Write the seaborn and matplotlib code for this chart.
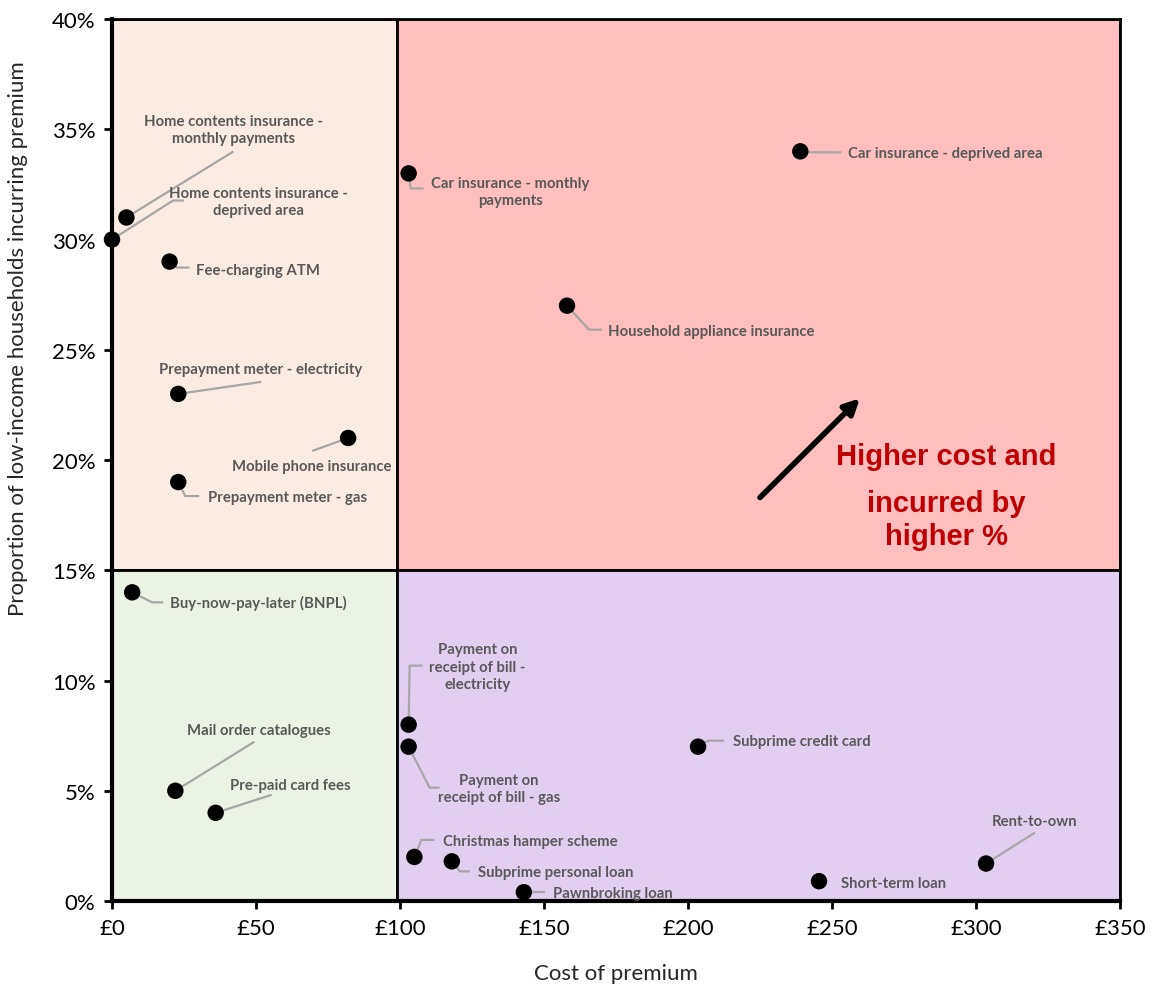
import matplotlib
matplotlib.use('Agg')
import matplotlib.pyplot as plt
import seaborn as sns
import pandas as pd
from matplotlib.patches import Rectangle
from matplotlib.ticker import FuncFormatter

# data
products = [
    'Home contents insurance -\nmonthly payments',
    'Home contents insurance -\ndeprived area',
    'Fee-charging ATM',
    'Prepayment meter - electricity',
    'Mobile phone insurance',
    'Prepayment meter - gas',
    'Buy-now-pay-later (BNPL)',
    'Car insurance - monthly\npayments',
    'Car insurance - deprived area',
    'Household appliance insurance',
    'Payment on\nreceipt of bill -\nelectricity',
    'Payment on\nreceipt of bill - gas',
    'Subprime credit card',
    'Mail order catalogues',
    'Pre-paid card fees',
    'Christmas hamper scheme',
    'Subprime personal loan',
    'Pawnbroking loan',
    'Short-term loan',
    'Rent-to-own',
]
cost = [5, 0, 20, 23, 82, 23, 7, 103, 239, 158, 103, 103, 203.5, 22, 36, 105, 118, 143, 245.5, 303.5]
share = [31, 30, 29, 23, 21, 19, 14, 33, 34, 27, 8, 7, 7, 5, 4, 2.0, 1.8, 0.4, 0.9, 1.7]

x_ticks = [0, 50, 100, 150, 200, 250, 300, 350]
y_ticks = [0, 5, 10, 15, 20, 25, 30, 35, 40]
x_split = 99
y_split = 15

# label placement: text centre offset and leader vertices, in pixels from the marker
label_offsets = [
    ((107, 88), [(107, 66)]),
    ((147, 38), [(61, 39), (72, 39)]),
    ((88, -8), [(7, -6), (20, -6)]),
    ((82, 25), [(83, 12)]),
    ((-36, -28), [(-36, -13)]),
    ((109, -15), [(7, -14), (21, -14)]),
    ((126, -10), [(20, -10), (31, -10)]),
    ((102, -18), [(2, -15), (15, -15)]),
    ((145, -2), [(11, -1), (41, -1)]),
    ((144, -25), [(22, -24), (35, -24)]),
    ((69, 58), [(1, 59), (14, 59)]),
    ((90, -42), [(21, -41), (31, -41)]),
    ((104, 6), [(10, 6), (26, 6)]),
    ((84, 61), [(79, 49)]),
    ((75, 28), [(56, 18)]),
    ((116, 16), [(7, 17), (20, 17)]),
    ((104, -11), [(8, -10), (18, -10)]),
    ((89, -1), [(21, 0)]),
    ((75, -2), []),
    ((49, 43), [(49, 31)]),
]

df = pd.DataFrame({'product': products, 'cost': cost, 'share': share})

sns.set_style('white')
plt.rcParams['font.family'] = ['Lato', 'DejaVu Sans']

fig = plt.figure(figsize=(11.63, 9.87), dpi=100)
ax = fig.add_axes([0.0963, 0.0861, 0.8667, 0.8936])
ax.set_xlim(0, 350)
ax.set_ylim(0, 40)

# quadrant backgrounds
quads = [
    ((0, y_split), x_split, 40 - y_split, '#FBECE3'),
    ((x_split, y_split), 350 - x_split, 40 - y_split, '#FFBFBF'),
    ((0, 0), x_split, y_split, '#EBF3E4'),
    ((x_split, 0), 350 - x_split, y_split, '#E2CFEF'),
]
for xy, w, h, c in quads:
    ax.add_patch(Rectangle(xy, w, h, facecolor=c, edgecolor='black', lw=2, zorder=0))

sns.scatterplot(data=df, x='cost', y='share', ax=ax, color='black', s=140,
                edgecolor='none', zorder=5, clip_on=False, legend=False)

# pixel -> data scale
sx = 350 / (0.8667 * 1163)
sy = 40 / (0.8936 * 987)

for (name, xv, yv), (toff, verts) in zip(zip(products, cost, share), label_offsets):
    if verts:
        lx = [xv] + [xv + dx * sx for dx, dy in verts]
        ly = [yv] + [yv + dy * sy for dx, dy in verts]
        ax.plot(lx, ly, color='#A6A6A6', lw=1.6, zorder=4, solid_capstyle='butt')
    ax.annotate(name, xy=(xv, yv), xytext=toff, textcoords='offset pixels',
                ha='center', va='center', multialignment='center',
                fontsize=10.7, fontweight='bold', color='#595959', zorder=6,
                linespacing=1.3)

# arrow and callout in the top-right quadrant
ax.annotate('', xy=(259.7, 22.8), xytext=(225, 18.3),
            arrowprops=dict(arrowstyle='-|>,head_width=0.45,head_length=0.9',
                            color='black', lw=4, shrinkA=0, shrinkB=0), zorder=6)
ax.text(289.6, 20.2, 'Higher cost and', ha='center', va='center', color='#C00000',
        fontsize=21, fontweight='bold', family=['Liberation Sans', 'DejaVu Sans'])
ax.text(289.6, 17.3, 'incurred by\nhigher %', ha='center', va='center', color='#C00000',
        fontsize=21, fontweight='bold', family=['Liberation Sans', 'DejaVu Sans'],
        linespacing=1.2)

ax.set_xticks(x_ticks)
ax.set_yticks(y_ticks)
ax.xaxis.set_major_formatter(FuncFormatter(lambda v, p: f'£{v:.0f}'))
ax.yaxis.set_major_formatter(FuncFormatter(lambda v, p: f'{v:.0f}%'))
ax.tick_params(direction='out', length=6, width=2, labelsize=16, color='black',
               labelcolor='black', pad=6)
ax.tick_params(axis='x', bottom=True)
ax.tick_params(axis='y', left=True)
for sp in ax.spines.values():
    sp.set_color('black')
    sp.set_linewidth(2)
ax.spines['bottom'].set_linewidth(3)
ax.spines['left'].set_linewidth(3)

ax.set_xlabel('Cost of premium', fontsize=16)
ax.set_ylabel('Proportion of low-income households incurring premium', fontsize=16)
ax.xaxis.set_label_coords(0.5, -0.070)
ax.yaxis.set_label_coords(-0.083, 0.639)

fig.savefig('out.png', dpi=100)
